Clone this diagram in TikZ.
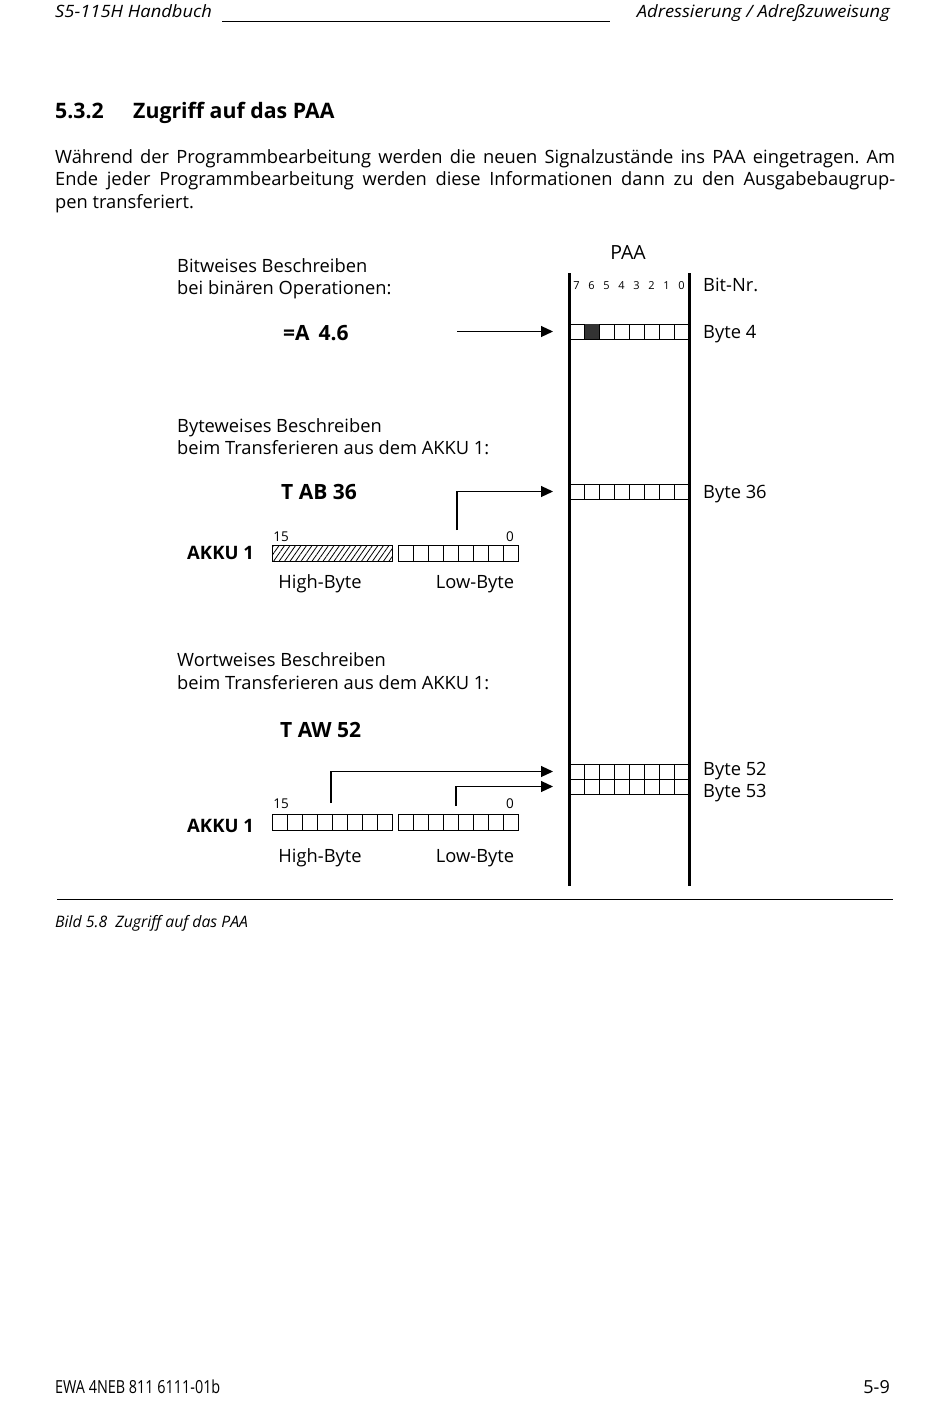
\documentclass[tikz,border=0pt]{standalone}
\usepackage{fontspec}
\setmainfont{Open Sans}
\newfontfamily\condit[FakeStretch=0.8]{Open Sans}
\newfontfamily\headit[FakeStretch=1.08]{Open Sans}
\usetikzlibrary{arrows.meta,patterns.meta}

\tikzset{
  txt/.style={anchor=base west, inner sep=0pt, font=\fontsize{18.3}{22}\selectfont},
  cmd/.style={anchor=base west, inner sep=0pt, font=\fontsize{21}{24}\selectfont\bfseries},
  tiny num/.style={anchor=base, inner sep=0pt, font=\fontsize{11}{12}\selectfont},
  small num/.style={anchor=base, inner sep=0pt, font=\fontsize{13.5}{14}\selectfont},
  akkulabel/.style={anchor=base west, inner sep=0pt, font=\fontsize{18.5}{20}\selectfont\bfseries},
  headtxt/.style={inner sep=0pt, font=\fontsize{17}{20}\selectfont\headit\itshape},
  byterow/.style={draw, line width=0.9pt, minimum width=120pt, minimum height=15pt, inner sep=0pt, outer sep=0pt, anchor=north west},
  akku/.style={byterow, minimum height=16pt},
  feed/.style={line width=1.1pt, -{Triangle[length=12pt,width=11pt]}},
  hatch/.style={pattern={Lines[angle=55,distance=4.5pt,line width=0.8pt]}},
}

\begin{document}
\frenchspacing
\begin{tikzpicture}[x=1pt,y=-1pt]
    \useasboundingbox (0,0) rectangle (950,1407);
    % page header
    \node[headtxt, anchor=base west] (hdl) at (55,18) {S5-115H Handbuch};
    \node[headtxt, anchor=base east] (hdr) at (890,18) {Adressierung / Adreßzuweisung};
    \draw[line width=1pt] (222,22) -- (610,22);
    \node[anchor=base west, inner sep=0pt, font=\fontsize{21.3}{24}\selectfont\bfseries] (secnr) at (55,119) {5.3.2};
    \node[anchor=base west, inner sep=0pt, font=\fontsize{21.3}{24}\selectfont\bfseries] (sectitle) at (133,119) {Zugriff auf das PAA};
    \node[anchor=north west, inner sep=0pt, text width=840pt, align=justify, font=\fontsize{18.3}{22.5}\selectfont] (intro) at (55,149)
      {Während der Programmbearbeitung werden die neuen Signalzustände ins PAA eingetragen. Am\linebreak Ende jeder Programmbearbeitung werden diese Informationen dann zu den Ausgabebaugrup-\linebreak pen transferiert.\par};

    % PAA memory
    \node[anchor=base, inner sep=0pt, font=\fontsize{19.5}{20}\selectfont] (paa) at (628,259) {PAA};
    \draw[line width=3pt] (569,273) -- (569,886);
    \draw[line width=3pt] (689,273) -- (689,886);
    \foreach \b [count=\i] in {7,6,5,4,3,2,1,0}
        \node[tiny num] (bit\b) at (569+15*\i-7.5,289) {\b};
    \node[txt] (bitnr) at (703,291) {Bit-Nr.};

    \node[byterow] (b4) at (569,324) {};
    \node[byterow] (b36) at (569,484) {};
    \node[byterow] (b52) at (569,764) {};
    \node[byterow] (b53) at (569,779) {};
    \fill[black!80] ([xshift=15pt]b4.north west) rectangle ([xshift=30pt]b4.south west);
    \foreach \r in {b4,b36,b52,b53}
        \foreach \i in {1,...,7}
            \draw[line width=0.9pt] ([xshift=\i*15pt]\r.north west) -- ([xshift=\i*15pt]\r.south west);
    \node[txt] (l4) at (703,338) {Byte 4};
    \node[txt] (l36) at (703,498) {Byte 36};
    \node[txt] (l52) at (703,775) {Byte 52};
    \node[txt] (l53) at (703,797) {Byte 53};

    % bitwise
    \node[txt] (t1) at (177,272) {Bitweises Beschreiben};
    \node[txt] (t1b) at (177,294) {bei binären Operationen:};
    \node[cmd] (c1) at (283,340) {=A\hspace{9pt}4.6};
    \coordinate (s1) at (457,331.5);
    \draw[feed] (s1) -- ([xshift=-16pt]b4.west);

    % bytewise
    \node[txt] (t2) at (177,432) {Byteweises Beschreiben};
    \node[txt] (t2b) at (177,454) {beim Transferieren aus dem AKKU 1:};
    \node[cmd] (c2) at (281,499) {T AB 36};
    \node[akkulabel] (ak1) at (187,559) {AKKU 1};
    \node[small num] (hi1) at (281,541) {15};
    \node[small num] (lo1) at (510,541) {0};
    \node[akku, hatch] (hb1) at (272,545) {};
    \node[akku] (lb1) at (398,545) {};
    \foreach \i in {1,...,7}
        \draw[line width=0.9pt] ([xshift=\i*15pt]lb1.north west) -- ([xshift=\i*15pt]lb1.south west);
    \node[txt, anchor=base] (hn1) at (320,588) {High-Byte};
    \node[txt, anchor=base] (ln1) at (475,588) {Low-Byte};
    \coordinate (s2) at (457,530);
    \draw[feed] (s2) |- ([xshift=-16pt]b36.west);

    % wordwise
    \node[txt] (t3) at (177,666) {Wortweises Beschreiben};
    \node[txt] (t3b) at (177,689) {beim Transferieren aus dem AKKU 1:};
    \node[cmd] (c3) at (280,737) {T AW 52};
    \node[akkulabel] (ak2) at (187,832) {AKKU 1};
    \node[small num] (hi2) at (281,808) {15};
    \node[small num] (lo2) at (510,808) {0};
    \node[akku] (hb2) at (272,814) {};
    \node[akku] (lb2) at (398,814) {};
    \foreach \r in {hb2,lb2}
        \foreach \i in {1,...,7}
            \draw[line width=0.9pt] ([xshift=\i*15pt]\r.north west) -- ([xshift=\i*15pt]\r.south west);
    \node[txt, anchor=base] (hn2) at (320,862) {High-Byte};
    \node[txt, anchor=base] (ln2) at (475,862) {Low-Byte};
    \coordinate (s3) at (331,803);
    \coordinate (s4) at (456,806);
    \draw[feed] (s3) |- ([xshift=-16pt]b52.west);
    \draw[feed] (s4) |- ([xshift=-16pt]b53.west);

    % caption and footer
    \draw[line width=1pt] (57,899) -- (893,899);
    \node[anchor=base west, inner sep=0pt, font=\fontsize{15.8}{18}\selectfont\itshape] (cap) at (55,927) {Bild 5.8~~Zugriff auf das PAA};
    \node[anchor=base west, inner sep=0pt, font=\fontsize{18}{20}\selectfont\condit] (foot) at (55,1393) {EWA 4NEB 811 6111-01b};
    \node[anchor=base east, inner sep=0pt, font=\fontsize{18}{20}\selectfont] (page) at (890,1393) {5-9};
\end{tikzpicture}
\end{document}
